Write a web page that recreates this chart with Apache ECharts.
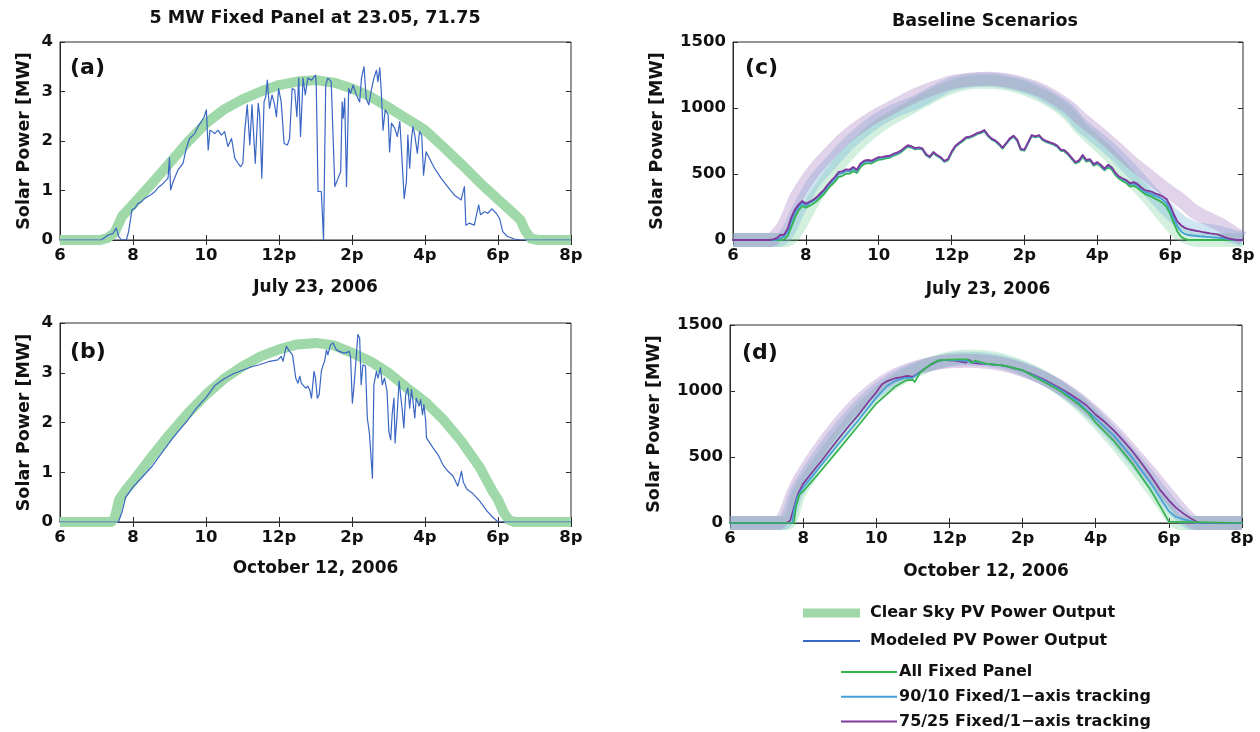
<!DOCTYPE html>
<html><head><meta charset="utf-8">
<script src="https://cdn.jsdelivr.net/npm/echarts@6/dist/echarts.min.js"></script>
<style>html,body{margin:0;padding:0;background:#fff}#c{width:1260px;height:732px}</style>
</head><body><div id="c"></div>
<script>
// ---------- ticks ----------
const xTickValues = [6, 8, 10, 12, 14, 16, 18, 20];
const xTickLabels = ['6', '8', '10', '12p', '2p', '4p', '6p', '8p'];
const titleLeft = '5 MW Fixed Panel at 23.05, 71.75';
const titleRight = 'Baseline Scenarios';
const dateJuly = 'July 23, 2006';
const dateOct = 'October 12, 2006';
const yName = 'Solar Power [MW]';

// ---------- panel (a) ----------
const clearA_t = [6, 7.1, 7.3, 7.5, 7.7, 8.0, 8.5, 9.0, 9.5, 10, 10.5, 11, 11.5, 12, 12.5, 13, 13.5, 14, 14.5, 15, 15.5, 16, 16.5, 17, 17.5, 18, 18.45, 18.62, 18.75, 18.9, 19.1, 20];
const clearA_v = [0, 0, 0.04, 0.15, 0.48, 0.72, 1.13, 1.55, 1.98, 2.36, 2.64, 2.84, 3.0, 3.13, 3.2, 3.23, 3.18, 3.06, 2.9, 2.68, 2.45, 2.22, 1.88, 1.53, 1.16, 0.82, 0.52, 0.4, 0.18, 0.03, 0, 0];
const modA_t = [6, 7.13, 7.32, 7.45, 7.54, 7.61, 7.68, 7.82, 7.88, 7.97, 8.05, 8.14, 8.23, 8.32, 8.41, 8.5, 8.6, 8.69, 8.78, 8.87, 8.96, 9.0, 9.03, 9.1, 9.23, 9.37, 9.46, 9.55, 9.69, 9.78, 9.87, 9.95, 10.01, 10.06, 10.11, 10.24, 10.33, 10.42, 10.51, 10.6, 10.7, 10.79, 10.88, 10.95, 11.01,
  11.06, 11.13, 11.2, 11.26, 11.35, 11.43, 11.47, 11.53, 11.59, 11.64, 11.68, 11.74, 11.81, 11.88, 11.93, 11.99, 12.06, 12.14, 12.23, 12.29, 12.36, 12.43, 12.49, 12.54, 12.59, 12.66, 12.72, 12.79, 12.89, 13.0, 13.02, 13.07, 13.16, 13.22, 13.25, 13.28, 13.34, 13.43, 13.48, 13.53, 13.62, 13.69, 13.73, 13.76, 13.8, 13.85, 13.91, 13.96, 14.03, 14.12, 14.21, 14.26, 14.33, 14.39, 14.46, 14.53, 14.6, 14.67, 14.71, 14.76, 14.8, 14.85, 14.91, 14.99, 15.03, 15.08, 15.17, 15.24, 15.31, 15.35, 15.43, 15.49, 15.53, 15.58, 15.63, 15.67, 15.72, 15.79, 15.85, 15.91, 15.96,
  16.03, 16.12, 16.26, 16.44, 16.62, 16.8, 16.99, 17.08, 17.12, 17.21, 17.35, 17.4, 17.47, 17.52, 17.63, 17.72, 17.83, 17.95, 18.04, 18.13, 18.26, 18.45, 18.63, 20];
const modA_v = [0, 0, 0.1, 0.13, 0.24, 0.07, 0, 0.01, 0.17, 0.61, 0.64, 0.74, 0.77, 0.84, 0.88, 0.92, 0.98, 1.06, 1.11, 1.18, 1.25, 1.66, 1.01, 1.18, 1.41, 1.55, 1.85, 2.05, 2.15, 2.29, 2.39, 2.49, 2.63, 1.82, 2.22, 2.15, 2.22, 2.12, 2.19, 1.89, 2.05, 1.65, 1.55, 1.48, 1.55,
  2.19, 2.73, 1.92, 2.73, 1.55, 2.76, 2.52, 1.25, 2.79, 2.9, 3.23, 2.66, 2.93, 2.73, 2.49, 3.06, 2.79, 1.95, 1.92, 2.05, 3.06, 3.03, 2.49, 3.27, 2.09, 3.27, 2.93, 3.27, 3.23, 3.33, 3.16, 0.98, 0.98, 0, 0, 3.13, 3.27, 3.2, 2.12, 1.08, 1.25, 1.38, 2.79, 2.46, 2.86, 1.08, 3.06, 2.96, 3.13, 2.93, 2.79, 3.27, 3.5, 2.86, 2.73, 3.03, 3.27, 3.43, 3.2, 3.48, 3.03, 2.22, 2.63, 2.53, 1.78, 2.36, 2.26, 2.09, 2.39, 1.89, 0.84, 1.18, 2.12, 1.45, 2.05, 2.29, 2.12, 1.75, 2.19, 2.12, 1.31,
  1.78, 1.65, 1.45, 1.25, 1.08, 0.91, 0.81, 1.08, 0.3, 0.34, 0.3, 0.27, 0.71, 0.51, 0.57, 0.54, 0.63, 0.54, 0.44, 0.17, 0.07, 0.02, 0, 0];

// ---------- panel (b) ----------
const clearB_t = [6, 7.4, 7.5, 7.62, 7.78, 8.0, 8.5, 9.0, 9.5, 10, 10.5, 11, 11.5, 12, 12.5, 13, 13.5, 14, 14.5, 15, 15.5, 16, 16.5, 17, 17.5, 17.85, 18.0, 18.15, 18.3, 18.45, 20];
const clearB_v = [0, 0, 0.08, 0.45, 0.62, 0.82, 1.3, 1.76, 2.18, 2.56, 2.88, 3.13, 3.33, 3.47, 3.57, 3.6, 3.55, 3.4, 3.23, 3.0, 2.7, 2.42, 2.06, 1.62, 1.1, 0.62, 0.45, 0.2, 0.04, 0, 0];
const modB_t = [6, 7.6, 7.7, 7.8, 8.0, 8.25, 8.5, 8.75, 9.0, 9.25, 9.5, 9.75, 10.0, 10.25, 10.5, 10.75, 11.0, 11.25, 11.47, 11.74, 11.97, 12.06, 12.11, 12.2, 12.29, 12.37, 12.41, 12.46, 12.52, 12.57, 12.61, 12.66, 12.73, 12.79, 12.84, 12.89, 12.96, 13.0, 13.05, 13.1, 13.16, 13.21, 13.25, 13.3, 13.34, 13.41, 13.48, 13.57, 13.66, 13.75, 13.84, 13.92, 13.96, 14.01, 14.05, 14.12, 14.16, 14.21, 14.25, 14.3, 14.37, 14.42, 14.48, 14.56, 14.6, 14.67, 14.71, 14.78, 14.83, 14.89, 14.96, 15.01, 15.06, 15.1, 15.15, 15.18, 15.23, 15.29, 15.33, 15.38, 15.42, 15.47, 15.53, 15.58, 15.63, 15.67, 15.72, 15.76, 15.84, 15.88, 15.93, 15.97, 16.02, 16.04, 16.13, 16.22, 16.36, 16.49, 16.63, 16.77, 16.9, 16.95, 17.0, 17.05, 17.15, 17.3, 17.5, 17.7, 17.85, 18.0, 20];
const modB_v = [0, 0, 0.2, 0.5, 0.7, 0.9, 1.1, 1.35, 1.6, 1.83, 2.05, 2.3, 2.5, 2.75, 2.88, 2.98, 3.05, 3.12, 3.16, 3.23, 3.26, 3.33, 3.23, 3.53, 3.43, 3.36, 3.4, 2.89, 2.79, 2.93, 2.79, 2.83, 2.69, 2.73, 2.66, 2.49, 3.03, 2.89, 2.49, 2.56, 3.03, 3.16, 3.23, 3.46, 3.36, 3.56, 3.6, 3.46, 3.43, 3.4, 3.4, 3.43, 3.33, 2.39, 2.69, 3.36, 3.77, 3.7, 2.76, 3.16, 3.13, 2.09, 1.76, 0.88, 2.76, 3.03, 2.89, 3.1, 2.76, 2.89, 2.63, 1.82, 1.65, 2.16, 2.49, 1.59, 2.09, 2.83, 2.56, 2.22, 1.89, 2.56, 2.69, 2.29, 2.66, 2.43, 2.09, 2.49, 2.33, 2.46, 2.16, 2.36, 2.02, 1.69, 1.59, 1.49, 1.35, 1.15, 1.02, 0.92, 0.72, 0.68, 1.02, 0.8, 0.66, 0.58, 0.42, 0.22, 0.1, 0, 0];

// ---------- panel (c) ----------
const hoursC = [6.0, 7.0, 7.1, 7.2, 7.3, 7.4, 7.5, 7.6, 7.7, 7.8, 7.9, 8.0, 8.1, 8.2, 8.3, 8.4, 8.5, 8.6, 8.7, 8.8, 8.9, 9.0, 9.1, 9.2, 9.3, 9.4, 9.5, 9.6, 9.7, 9.8, 9.9, 10.0, 10.1, 10.2, 10.3, 10.4, 10.5, 10.6, 10.7, 10.8, 10.9, 11.0, 11.1, 11.2, 11.3, 11.4, 11.5, 11.6, 11.7, 11.8, 11.9, 12.0, 12.1, 12.2, 12.3, 12.4, 12.5, 12.6, 12.7, 12.8, 12.9, 13.0, 13.1, 13.2, 13.3, 13.4, 13.5, 13.6, 13.7, 13.8, 13.9, 14.0, 14.1, 14.2, 14.3, 14.4, 14.5, 14.6, 14.7, 14.8, 14.9, 15.0, 15.1, 15.2, 15.3, 15.4, 15.5, 15.6, 15.7, 15.8, 15.9, 16.0, 16.1, 16.2, 16.3, 16.4, 16.5, 16.6, 16.7, 16.8, 16.9, 17.0, 17.1, 17.2, 17.3, 17.4, 17.5, 17.6, 17.7, 17.8, 17.9, 18.0, 18.1, 18.2, 18.3, 18.4, 18.5, 18.6, 18.7, 18.8, 18.9, 19.0, 19.1, 19.2, 19.3, 19.4, 19.5, 19.6, 19.7, 19.8, 19.9, 20.0];
const fixedC = [0, 0, 0, 0, 0, 5, 30, 100, 170, 225, 258, 245, 258, 275, 295, 322, 350, 385, 415, 442, 478, 485, 502, 503, 522, 508, 552, 575, 582, 580, 595, 608, 612, 618, 623, 638, 648, 662, 686, 706, 700, 686, 693, 685, 642, 624, 658, 636, 620, 592, 604, 660, 704, 727, 747, 770, 775, 787, 802, 810, 825, 787, 760, 747, 722, 692, 727, 762, 782, 752, 682, 677, 732, 787, 777, 787, 757, 742, 732, 722, 707, 676, 671, 646, 612, 580, 592, 632, 594, 600, 563, 577, 555, 527, 555, 533, 490, 464, 446, 430, 405, 410, 396, 372, 350, 338, 326, 312, 298, 280, 252, 200, 128, 65, 25, 8, 0, 0, 0, 0, 0, 0, 0, 0, 0, 0, 0, 0, 0, 0, 0, 0];
const trk10C = [0, 0, 0, 3, 15, 28, 60, 140, 205, 250, 280, 262, 278, 295, 315, 342, 370, 405, 436, 463, 500, 505, 522, 520, 540, 522, 568, 590, 596, 592, 606, 620, 622, 627, 631, 645, 655, 668, 692, 712, 705, 690, 697, 689, 646, 628, 662, 640, 624, 596, 608, 664, 708, 731, 751, 774, 779, 791, 806, 814, 829, 791, 764, 751, 726, 696, 731, 766, 786, 756, 686, 681, 736, 791, 781, 791, 761, 746, 736, 726, 711, 681, 676, 651, 618, 586, 598, 639, 601, 607, 570, 584, 562, 534, 563, 543, 500, 476, 460, 446, 422, 428, 412, 388, 365, 356, 346, 334, 322, 305, 280, 228, 165, 102, 65, 46, 38, 34, 31, 28, 26, 24, 22, 20, 18, 15, 12, 8, 4, 0, 0, 0];
const trk25C = [0, 0, 5, 13, 38, 40, 85, 170, 230, 268, 295, 275, 288, 305, 325, 354, 382, 418, 450, 478, 515, 520, 535, 532, 553, 532, 580, 600, 606, 600, 615, 628, 630, 634, 638, 652, 662, 675, 698, 718, 710, 696, 702, 694, 650, 632, 666, 644, 628, 600, 612, 668, 712, 735, 755, 778, 783, 795, 810, 818, 833, 795, 768, 755, 730, 700, 735, 770, 790, 760, 690, 685, 740, 795, 785, 795, 765, 750, 740, 730, 715, 685, 680, 655, 622, 590, 603, 644, 606, 612, 575, 590, 568, 540, 570, 550, 508, 480, 466, 452, 430, 438, 425, 400, 378, 372, 364, 352, 342, 328, 310, 262, 195, 139, 112, 92, 82, 76, 70, 65, 60, 55, 50, 46, 43, 33, 22, 12, 6, 2, 0, 0];
const clrFixedC_t = [6, 7.45, 7.66, 7.94, 8.21, 8.67, 9.13, 9.59, 10.05, 10.51, 11.25, 11.75, 12.25, 12.75, 13.25, 13.75, 14.25, 14.75, 15.19, 15.55, 16.0, 16.47, 16.92, 17.38, 17.84, 18.2, 18.47, 18.75, 20];
const clrFixedC_v = [0, 0, 38, 164, 303, 492, 644, 770, 871, 947, 1060, 1130, 1180, 1198, 1195, 1170, 1120, 1050, 960, 846, 732, 606, 467, 328, 177, 63, 20, 0, 0];
const clrTrk10C_t = [6, 7.25, 7.48, 7.75, 8.2, 8.67, 9.13, 9.6, 10.05, 10.5, 11.06, 11.5, 12.0, 12.5, 13.0, 13.5, 14.0, 14.5, 15.19, 15.55, 16.0, 16.47, 16.92, 17.38, 17.84, 18.29, 18.66, 19.2, 19.75, 20];
const clrTrk10C_v = [0, 0, 50, 202, 429, 580, 720, 833, 922, 985, 1048, 1115, 1180, 1208, 1215, 1200, 1165, 1108, 985, 871, 770, 657, 530, 391, 252, 139, 88, 63, 25, 5];
const clrTrk25C_t = [6, 7.0, 7.1, 7.4, 7.75, 8.2, 8.65, 9.1, 9.6, 10.05, 10.5, 11.0, 11.5, 12.0, 12.5, 13.0, 13.5, 14.0, 14.5, 15.2, 15.55, 16.0, 16.47, 16.92, 17.38, 17.84, 18.29, 18.66, 19.02, 19.39, 19.75, 20];
const clrTrk25C_v = [0, 0, 10, 110, 328, 518, 657, 780, 884, 960, 1025, 1095, 1150, 1195, 1215, 1222, 1210, 1178, 1128, 1010, 920, 820, 707, 593, 492, 391, 303, 215, 164, 114, 50, 13];

// ---------- panel (d) ----------
const fixedD_t = [6, 7.75, 7.8, 7.9, 8.0, 8.5, 9.0, 9.5, 10.0, 10.5, 10.8, 11.0, 11.05, 11.2, 11.5, 11.7, 12.0, 12.25, 12.5, 12.6, 12.7, 13.0, 13.5, 14.0, 14.5, 15.0, 15.5, 15.8, 16.0, 16.5, 17.0, 17.5, 17.8, 18.0, 18.05, 20];
const fixedD_v = [0, 0, 120, 215, 240, 400, 565, 735, 905, 1030, 1080, 1085, 1068, 1140, 1205, 1232, 1238, 1240, 1240, 1215, 1230, 1208, 1192, 1158, 1082, 1005, 905, 835, 760, 620, 450, 250, 110, 10, 0, 0];
const trk10D_t = [6, 7.7, 7.75, 7.85, 8.0, 8.5, 9.0, 9.5, 10.0, 10.3, 10.5, 10.8, 11.0, 11.05, 11.2, 11.5, 11.7, 12.0, 12.25, 12.5, 12.6, 12.7, 13.0, 13.5, 14.0, 14.5, 15.0, 15.5, 16.0, 16.5, 17.0, 17.5, 17.8, 18.0, 18.2, 18.4, 18.6, 18.7, 20];
const trk10D_v = [0, 0, 100, 200, 270, 440, 610, 775, 950, 1040, 1075, 1100, 1100, 1090, 1145, 1205, 1230, 1236, 1232, 1228, 1212, 1222, 1206, 1192, 1156, 1090, 1015, 922, 790, 660, 495, 305, 175, 90, 45, 28, 15, 0, 0];
const trk25D_t = [6, 7.55, 7.65, 7.75, 7.85, 8.0, 8.25, 8.5, 8.75, 9.0, 9.25, 9.5, 9.75, 10.0, 10.15, 10.3, 10.5, 10.7, 10.85, 11.0, 11.1, 11.3, 11.5, 11.7, 11.85, 12.0, 12.15, 12.3, 12.45, 12.55, 12.65, 12.8, 13.0, 13.2, 13.4, 13.6, 13.8, 14.0, 14.2, 14.4, 14.6, 14.8, 15.0, 15.25, 15.5, 15.75, 16.0, 16.25, 16.5, 16.75, 17.0, 17.25, 17.5, 17.75, 18.0, 18.2, 18.4, 18.6, 18.75, 18.85, 20];
const trk25D_v = [0, 0, 20, 120, 215, 298, 385, 470, 560, 650, 735, 815, 905, 990, 1050, 1075, 1095, 1105, 1115, 1108, 1125, 1165, 1200, 1228, 1236, 1232, 1230, 1222, 1215, 1235, 1212, 1208, 1205, 1200, 1195, 1185, 1170, 1155, 1135, 1110, 1085, 1055, 1025, 985, 940, 890, 820, 765, 700, 625, 545, 455, 360, 255, 172, 115, 71, 35, 12, 0, 0];
const clrFixedD_t = [6, 7.55, 7.7, 7.85, 8.0, 8.5, 9.0, 9.5, 10.0, 10.5, 11.0, 11.5, 12.0, 12.5, 13.0, 13.5, 14.0, 14.5, 15.0, 15.5, 16.0, 16.5, 17.0, 17.5, 17.9, 18.1, 18.3, 20];
const clrFixedD_v = [0, 0, 60, 200, 280, 480, 660, 830, 965, 1070, 1145, 1205, 1245, 1262, 1255, 1228, 1180, 1112, 1025, 915, 780, 625, 455, 275, 120, 40, 0, 0];
const clrTrk10D_t = [6, 7.45, 7.6, 7.8, 8.0, 8.5, 9.0, 9.5, 10.0, 10.5, 11.0, 11.5, 12.0, 12.5, 13.0, 13.5, 14.0, 14.5, 15.0, 15.5, 16.0, 16.5, 17.0, 17.5, 17.9, 18.2, 18.45, 18.6, 20];
const clrTrk10D_v = [0, 0, 60, 220, 320, 530, 710, 870, 1000, 1095, 1160, 1205, 1235, 1245, 1238, 1212, 1168, 1108, 1030, 930, 805, 660, 500, 330, 190, 90, 25, 0, 0];
const clrTrk25D_t = [6, 7.3, 7.5, 7.75, 8.0, 8.5, 9.0, 9.5, 10.0, 10.5, 11.0, 11.5, 12.0, 12.5, 13.0, 13.5, 14.0, 14.5, 15.0, 15.5, 16.0, 16.5, 17.0, 17.5, 17.9, 18.2, 18.45, 18.65, 18.8, 20];
const clrTrk25D_v = [0, 0, 60, 240, 370, 580, 760, 910, 1030, 1115, 1170, 1205, 1225, 1230, 1222, 1200, 1160, 1105, 1035, 940, 825, 690, 535, 375, 240, 140, 60, 10, 0, 0];

// ---------- legend names ----------
const nmClear = 'Clear Sky PV Power Output';
const nmModel = 'Modeled PV Power Output';
const nmFixed = 'All Fixed Panel';
const nm10 = '90/10 Fixed/1\u2212axis tracking';
const nm25 = '75/25 Fixed/1\u2212axis tracking';

// ---------- styling ----------
const FONT = 'DejaVu Sans';
const WT = 'bold';
const TXT = '#111111';
const C_CLEAR = '#9fd8a9';
const C_MODEL = '#3a66c4';
const C_FIX = '#36b34f';
const C_10 = '#45a0d8';
const C_25 = '#80399a';
const B_FIX = 'rgba(110,205,150,0.30)';
const B_10 = 'rgba(110,175,215,0.33)';
const B_25 = 'rgba(165,120,190,0.33)';

function zip(t, v) { return t.map((x, i) => [x, v[i]]); }

const grids = [
  { left: 60, top: 42, width: 511, height: 198 },
  { left: 60, top: 323, width: 511, height: 199 },
  { left: 733, top: 42, width: 510, height: 198 },
  { left: 730, top: 325, width: 512, height: 198 }
].map(g => Object.assign(g, { show: true, borderColor: '#2b2b2b', borderWidth: 1, backgroundColor: 'transparent' }));

const labelMap = {};
xTickValues.forEach((v, i) => { labelMap[v] = xTickLabels[i]; });
const axisFont = { fontFamily: FONT, fontWeight: WT, fontSize: 16.5, color: TXT };

function xMain(gi, name, gap) {
  return {
    type: 'value', gridIndex: gi, min: 6, max: 20, interval: 2, position: 'bottom',
    axisLine: { show: true, onZero: false, lineStyle: { color: '#2b2b2b', width: 1 } },
    axisTick: { show: true, inside: true, length: 5, lineStyle: { color: '#2b2b2b' } },
    splitLine: { show: false },
    axisLabel: Object.assign({ margin: 7, showMinLabel: true, showMaxLabel: true, formatter: v => labelMap[v] }, axisFont),
    name: name, nameLocation: 'middle', nameGap: gap,
    nameTextStyle: { fontFamily: FONT, fontWeight: WT, fontSize: 17, color: TXT }
  };
}
function xTop(gi) {
  return {
    type: 'value', gridIndex: gi, min: 6, max: 20, interval: 2, position: 'top',
    axisLine: { show: false }, axisLabel: { show: false }, splitLine: { show: false },
    axisTick: { show: true, inside: true, length: 5, lineStyle: { color: '#2b2b2b' } }
  };
}
function yMain(gi, max, interval) {
  return {
    type: 'value', gridIndex: gi, min: 0, max: max, interval: interval, position: 'left',
    axisLine: { show: true, onZero: false, lineStyle: { color: '#2b2b2b', width: 1 } },
    axisTick: { show: true, inside: true, length: 5, lineStyle: { color: '#2b2b2b' } },
    splitLine: { show: false },
    axisLabel: Object.assign({ margin: 7, showMinLabel: true, showMaxLabel: true, formatter: v => String(v) }, axisFont),
    name: yName, nameLocation: 'middle', nameRotate: 90, nameGap: max > 100 ? 67 : 27,
    nameTextStyle: { fontFamily: FONT, fontWeight: WT, fontSize: 17.5, color: TXT }
  };
}
function yRight(gi, max, interval) {
  return {
    type: 'value', gridIndex: gi, min: 0, max: max, interval: interval, position: 'right',
    axisLine: { show: false }, axisLabel: { show: false }, splitLine: { show: false },
    axisTick: { show: true, inside: true, length: 5, lineStyle: { color: '#2b2b2b' } }
  };
}

const xAxes = [xMain(0, dateJuly, 39), xMain(1, dateOct, 38), xMain(2, dateJuly, 41), xMain(3, dateOct, 40), xTop(0), xTop(1), xTop(2), xTop(3)];
const yAxes = [yMain(0, 4, 1), yMain(1, 4, 1), yMain(2, 1500, 500), yMain(3, 1500, 500), yRight(0, 4, 1), yRight(1, 4, 1), yRight(2, 1500, 500), yRight(3, 1500, 500)];

function line(name, gi, data, color, width, z, cap) {
  return {
    type: 'line', name: name, xAxisIndex: gi, yAxisIndex: gi, data: data,
    showSymbol: false, symbol: 'none', smooth: false, clip: true, z: z || 2,
    lineStyle: { color: color, width: width, join: 'round', cap: cap || 'round' },
    itemStyle: { color: color }, emphasis: { disabled: true }, silent: true
  };
}
function band(name, gi, data, color, width) {
  const s = line(name, gi, data, color, width, 1, 'butt');
  s.smooth = 0.35;
  return s;
}

const series = [
  line(nmClear, 0, zip(clearA_t, clearA_v), C_CLEAR, 10, 1, 'butt'),
  line(nmModel, 0, zip(modA_t, modA_v), C_MODEL, 1.2, 3),
  line(nmClear, 1, zip(clearB_t, clearB_v), C_CLEAR, 10, 1, 'butt'),
  line(nmModel, 1, zip(modB_t, modB_v), C_MODEL, 1.2, 3),

  band('All Fixed Panel clear sky (c)', 2, zip(clrFixedC_t, clrFixedC_v), B_FIX, 14),
  band('90/10 clear sky (c)', 2, zip(clrTrk10C_t, clrTrk10C_v), B_10, 14),
  band('75/25 clear sky (c)', 2, zip(clrTrk25C_t, clrTrk25C_v), B_25, 14),
  line(nmFixed, 2, zip(hoursC, fixedC), C_FIX, 1.9, 3),
  line(nm10, 2, zip(hoursC, trk10C), C_10, 1.9, 3),
  line(nm25, 2, zip(hoursC, trk25C), C_25, 1.9, 3),

  band('All Fixed Panel clear sky (d)', 3, zip(clrFixedD_t, clrFixedD_v), B_FIX, 14),
  band('90/10 clear sky (d)', 3, zip(clrTrk10D_t, clrTrk10D_v), B_10, 14),
  band('75/25 clear sky (d)', 3, zip(clrTrk25D_t, clrTrk25D_v), B_25, 14),
  line(nm25, 3, zip(trk25D_t, trk25D_v), C_25, 1.7, 3),
  line(nm10, 3, zip(trk10D_t, trk10D_v), C_10, 1.7, 3),
  line(nmFixed, 3, zip(fixedD_t, fixedD_v), C_FIX, 1.7, 3)
];

const legTxt = { fontFamily: FONT, fontWeight: WT, fontSize: 16, color: TXT, lineHeight: 20 };
const legends = [
  { data: [nmClear], left: 803, top: 603, icon: 'rect', itemWidth: 57, itemHeight: 9, padding: 0, selectedMode: false,
    textStyle: Object.assign({ padding: [0, 0, 0, 5] }, legTxt) },
  { data: [nmModel], left: 803, top: 631, icon: 'rect', itemWidth: 57, itemHeight: 2, padding: 0, selectedMode: false,
    textStyle: Object.assign({ padding: [0, 0, 0, 5] }, legTxt) },
  { data: [nmFixed, nm10, nm25], left: 841, top: 662, orient: 'vertical', icon: 'rect', itemWidth: 56, itemHeight: 2, itemGap: 4.7, padding: 0, selectedMode: false,
    textStyle: Object.assign({ padding: [0, 0, 0, -3] }, legTxt) }
];

const titleFont = { fontFamily: FONT, fontWeight: WT, fontSize: 17.5, color: TXT };
const letterFont = { fontFamily: FONT, fontWeight: WT, fontSize: 22, color: TXT };
const titles = [
  { text: titleLeft, left: 315, top: 9, textAlign: 'center', textStyle: titleFont, padding: 0 },
  { text: titleRight, left: 985, top: 12, textAlign: 'center', textStyle: titleFont, padding: 0 },
  { text: '(a)', left: 70, top: 57, textStyle: letterFont, padding: 0 },
  { text: '(b)', left: 70, top: 341, textStyle: letterFont, padding: 0 },
  { text: '(c)', left: 745, top: 57, textStyle: letterFont, padding: 0 },
  { text: '(d)', left: 742, top: 342, textStyle: letterFont, padding: 0 }
];

const chart = echarts.init(document.getElementById('c'), null, { renderer: 'canvas', width: 1260, height: 732 });
chart.setOption({
  animation: false,
  backgroundColor: '#ffffff',
  title: titles,
  legend: legends,
  grid: grids,
  xAxis: xAxes,
  yAxis: yAxes,
  series: series
});
</script>
</body></html>
